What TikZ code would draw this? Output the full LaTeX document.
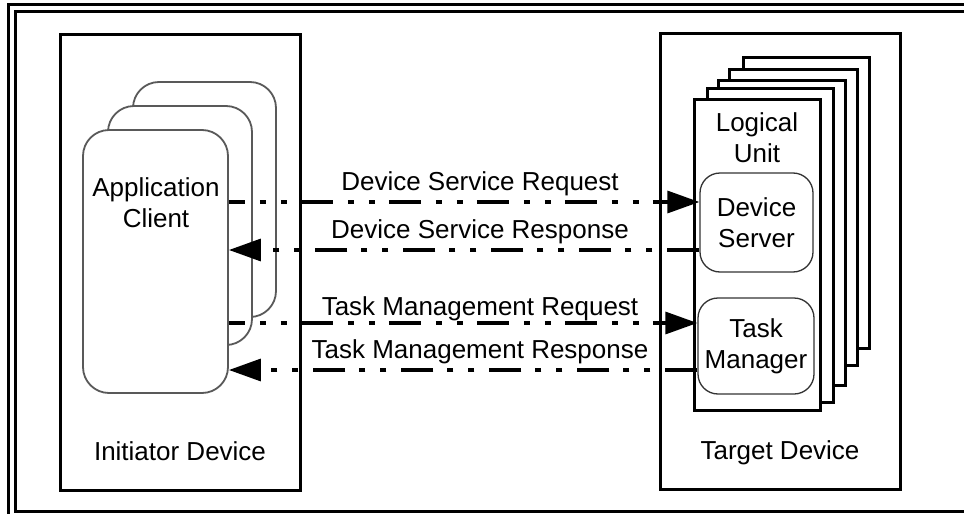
\documentclass[tikz,border=0pt]{standalone}
\usepackage{fontspec}
\setmainfont{Liberation Sans}
\usetikzlibrary{arrows.meta,positioning}

\begin{document}
\begin{tikzpicture}
[x=1pt, y=-1pt, font=\fontsize{26}{31}\selectfont, line width=3pt,
frame/.style={draw, line width=3pt},
devbox/.style={rectangle, draw, line width=3pt, inner sep=0pt, minimum width=240pt, minimum height=456pt},
client/.style={rectangle, draw=black!65, fill=white, line width=1.8pt, rounded corners=26pt, inner sep=0pt},
lubox/.style={rectangle, draw, fill=white, line width=3pt, inner sep=0pt},
svc/.style={rectangle, draw=black!80, fill=white, line width=1.3pt, rounded corners=20pt, align=center, inner sep=0pt},
msg/.style={line width=3.3pt, dash pattern=on 32pt off 15pt on 6pt off 15pt on 6pt off 14pt, -{Triangle[length=32pt, width=22pt]}},
lbl/.style={inner sep=0pt, align=center}]

\useasboundingbox (0,0) rectangle (964,514);

% double frame, cut by the page at right and bottom
\draw[frame] (8,4) rectangle (990,540);
\draw[frame] (15,11) rectangle (985,511);

% devices
\node[devbox] (initiator) at (180,262) {};
\node[devbox] (target) at (780,261.5) {};
\node[lbl, anchor=base] (initlbl) at (180,460) {Initiator Device};
\node[lbl, anchor=base] (targlbl) at (780,459) {Target Device};

% application clients
\node[client, minimum width=143pt, minimum height=235pt] (app3) at (204.5,199.5) {};
\node[client, minimum width=144pt, minimum height=239pt] (app2) at (180,225.5) {};
\node[client, minimum width=145pt, minimum height=263pt] (app1) at (155.5,261.5) {};
\node[lbl] (applbl) at (156,203) {Application\\Client};

% logical units
\foreach \xa/\ya/\xb/\yb in {743/57/869/348, 729/69/857/365, 718/80/845/385, 707/88/833/402}
  \draw[lubox] (\xa,\ya) rectangle (\xb,\yb);
\node[lubox, minimum width=126pt, minimum height=311pt] (lu1) at (757,254.5) {};
\node[lbl] (lulbl) at (757,138) {Logical\\Unit};

\node[svc, minimum width=113pt, minimum height=99pt] (devsrv) at (756.5,222.5) {Device\\Server};
\node[svc, minimum width=116pt, minimum height=96pt] (taskmgr) at (756,346) {Task\\Manager};

% message rows
\coordinate (rowA) at (0,202);
\coordinate (rowB) at (0,250);
\coordinate (rowC) at (0,323);
\coordinate (rowD) at (0,370);

\draw[msg, dash phase=16pt] (app1.east |- rowA) -- (devsrv.west |- rowA);
\draw[msg] (devsrv.west |- rowB) -- (app1.east |- rowB);
\draw[msg, dash phase=16pt] (app1.east |- rowC) -- (taskmgr.west |- rowC);
\draw[msg] (taskmgr.west |- rowD) -- (app1.east |- rowD);

\node[lbl, anchor=base] (dsreq) at (480,190) {Device Service Request};
\node[lbl, anchor=base] (dsresp) at (480,238) {Device Service Response};
\node[lbl, anchor=base] (tmreq) at (480,315) {Task Management Request};
\node[lbl, anchor=base] (tmresp) at (480,358) {Task Management Response};
\end{tikzpicture}
\end{document}
